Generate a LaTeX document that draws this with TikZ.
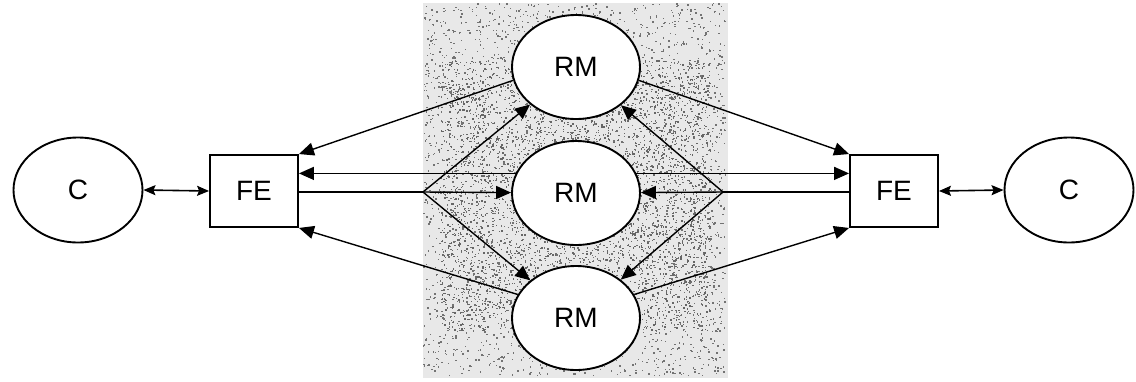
\documentclass[tikz,border=0pt]{standalone}
\usepackage{fontspec}
\setmainfont{Liberation Sans}
\usetikzlibrary{shapes.geometric,arrows.meta}
\begin{document}
\begin{tikzpicture}[x=1pt,y=-1pt,
  every node/.style={font=\fontsize{28}{30}\selectfont},
  client/.style={ellipse,draw,line width=1.9pt,fill=white,minimum width=129pt,minimum height=105pt,inner sep=0pt},
  replica/.style={ellipse,draw,line width=1.9pt,fill=white,minimum width=128pt,minimum height=104pt,inner sep=0pt},
  frontend/.style={rectangle,draw,line width=1.9pt,fill=white,minimum width=88pt,minimum height=72pt,inner sep=0pt},
  msg/.style={line width=1.4pt,-{Triangle[length=15pt,width=13pt]}},
  plain/.style={line width=1.4pt},
  link/.style={line width=1.6pt,{Stealth[length=12pt,width=10pt,inset=2pt]}-{Stealth[length=12pt,width=10pt,inset=2pt]}}]
  \useasboundingbox (0,0) rectangle (1136,381);

  % stippled backdrop of the replica group: sparse grain everywhere,
  % denser grain towards the middle
  \fill[black!9] (423,3) rectangle (728,378);
  \pgfmathsetseed{4711}
  \foreach \i in {1,...,3500} {
    \pgfmathsetmacro{\px}{423+302*rnd}
    \pgfmathsetmacro{\py}{3+372*rnd}
    \fill[black!55] (\px,\py) rectangle ++(1.4,1.4);
  }
  \foreach \i in {1,...,3500} {
    \pgfmathsetmacro{\px}{440+270*rnd}
    \pgfmathsetmacro{\py}{60+270*rnd}
    \fill[black!60] (\px,\py) rectangle ++(1.4,1.4);
  }

  % nodes
  \node[client]   (cL)  at (78,190)  {C};
  \node[frontend] (feL) at (254,191) {FE};
  \node[replica]  (rmT) at (576,67)  {RM};
  \node[replica]  (rmM) at (576,193) {RM};
  \node[replica]  (rmB) at (576,318) {RM};
  \node[frontend] (feR) at (894,191) {FE};
  \node[client]   (cR)  at (1069,190) {C};

  % fan-out points of the front-end requests
  \coordinate (bL) at (423,192);
  \coordinate (bR) at (723,192);

  % clients and front ends
  \draw[link] (cL.east) -- (feL.west);
  \draw[link] (feR.east) -- (cR.west);

  % requests: front end to every replica manager
  \draw[plain] (feL.east |- bL) -- (bL);
  \draw[msg] (bL) -- (rmT);
  \draw[msg] (bL) -- (rmM);
  \draw[msg] (bL) -- (rmB);
  \draw[plain] (feR.west |- bR) -- (bR);
  \draw[msg] (bR) -- (rmT);
  \draw[msg] (bR) -- (rmM);
  \draw[msg] (bR) -- (rmB);

  % replies: replica managers back to the front ends
  \draw[msg] (rmT.192) -- (feL.north east);
  \draw[msg] (rmM.162) -- (feL.east |- rmM.162);
  \draw[msg] (rmB.158) -- (feL.south east);
  \draw[msg] (rmT.348) -- (feR.north west);
  \draw[msg] (rmM.18) -- (feR.west |- rmM.18);
  \draw[msg] (rmB.22) -- (feR.south west);
\end{tikzpicture}
\end{document}
